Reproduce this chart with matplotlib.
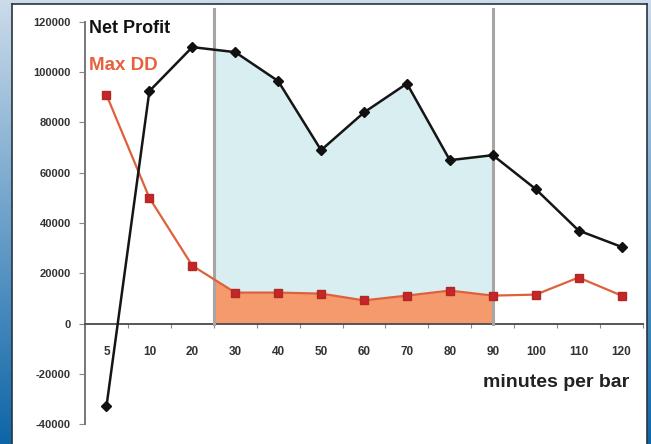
import numpy as np
import matplotlib
matplotlib.use("Agg")
import matplotlib.pyplot as plt
from matplotlib.ticker import FixedLocator

# bar size in minutes and the two series
bar_minutes = ['5', '10', '20', '30', '40', '50', '60', '70', '80', '90', '100', '110', '120']
net_profit = [-33000, 92500, 110000, 108000, 96500, 69000, 84000, 95500, 65000, 67000, 53500, 37000, 30500]
max_dd = [91000, 50000, 23000, 12300, 12300, 11900, 9200, 11100, 13100, 11100, 11500, 18300, 11100]
y_ticks = [-40000, -20000, 0, 20000, 40000, 60000, 80000, 100000, 120000]

# highlighted range of bar sizes (index 2.5 -> between 20 and 30, index 9 -> 90)
band_lo, band_hi = 2.5, 9.0

W, H = 651, 444
fig = plt.figure(figsize=(W / 100, H / 100), dpi=100)

# blue gradient frame behind the panel
bg = fig.add_axes([0, 0, 1, 1])
grad = np.linspace(0, 1, 256).reshape(-1, 1)
top_col = np.array([0.80, 0.86, 0.92])
bot_col = np.array([0.05, 0.40, 0.66])
img = top_col * (1 - grad[..., None]) + bot_col * grad[..., None]
bg.imshow(img, aspect='auto', extent=[0, 1, 0, 1], origin='upper')
bg.set_axis_off()

# white panel
panel = fig.add_axes([12 / W, 0, (647 - 12) / W, (H - 4) / H])
panel.set_facecolor('white')
panel.set_xticks([])
panel.set_yticks([])
for s in panel.spines.values():
    s.set_color('#2a3440')
    s.set_linewidth(1.2)
panel.spines['bottom'].set_visible(False)

# chart area
x0, x1 = 85, 643
ytop, ybot = 22, 424
ax = fig.add_axes([x0 / W, (H - ybot) / H, (x1 - x0) / W, (ybot - ytop) / H])
ax.patch.set_alpha(0)
x = np.arange(len(bar_minutes))
ax.set_xlim(-0.5, len(bar_minutes) - 0.5)
ax.set_ylim(-40000, 120000)

# shaded band: net profit in light blue, drawdown in orange on top
xf = np.linspace(band_lo, band_hi, 200)
ax.fill_between(xf, 0, np.interp(xf, x, net_profit), color='#d8eef0', lw=0, zorder=1)
ax.fill_between(xf, 0, np.interp(xf, x, max_dd), color='#f59a6c', lw=0, zorder=2)
for xv in (band_lo, band_hi):
    ax.plot([xv, xv], [0, 125000], color='#aaa5a5', lw=2.2, clip_on=False, zorder=3)

ax.plot(x, max_dd, color='#e0603c', lw=1.6, marker='s', ms=5.5,
        mfc='#c4262a', mec='#b02a22', zorder=4)
ax.plot(x, net_profit, color='#151515', lw=1.8, marker='D', ms=5,
        mfc='#111111', mec='#111111', zorder=5)

# axes styling
for s in ('top', 'right'):
    ax.spines[s].set_visible(False)
ax.spines['bottom'].set_position(('data', 0))
ax.spines['bottom'].set_color('#555555')
ax.spines['left'].set_color('#777777')
ax.spines['bottom'].set_linewidth(1.4)
ax.spines['left'].set_linewidth(1.4)

ax.set_yticks(y_ticks)
ax.set_yticklabels([str(v) for v in y_ticks], fontsize=8, fontweight='bold',
                   color='#333333', family='Liberation Sans')
ax.tick_params(axis='y', length=4, width=0.8, color='#888888', pad=6)

ax.set_xticks(x)
ax.set_xticklabels(bar_minutes, fontsize=8.5, fontweight='bold', color='#333333',
                   family='Liberation Sans')
ax.xaxis.set_minor_locator(FixedLocator(np.arange(-0.5, len(bar_minutes), 1.0)))
ax.tick_params(axis='x', which='major', length=0, pad=16)
ax.tick_params(axis='x', which='minor', length=3, width=0.8, color='#888888')

# series names and axis title
yax = ax.get_yaxis_transform()
ax.text(0.008, 117500, 'Net Profit', transform=yax, fontsize=13,
        fontweight='bold', color='#111111', family='Liberation Sans', va='center')
ax.text(0.008, 102500, 'Max DD', transform=yax, fontsize=13.5,
        fontweight='bold', color='#e8603c', family='Liberation Sans', va='center')
ax.text(0.975, -23500, 'minutes per bar', transform=yax,
        fontsize=14, fontweight='bold', color='#222222', family='Liberation Sans',
        ha='right', va='center')

fig.savefig('out.png', dpi=100)
